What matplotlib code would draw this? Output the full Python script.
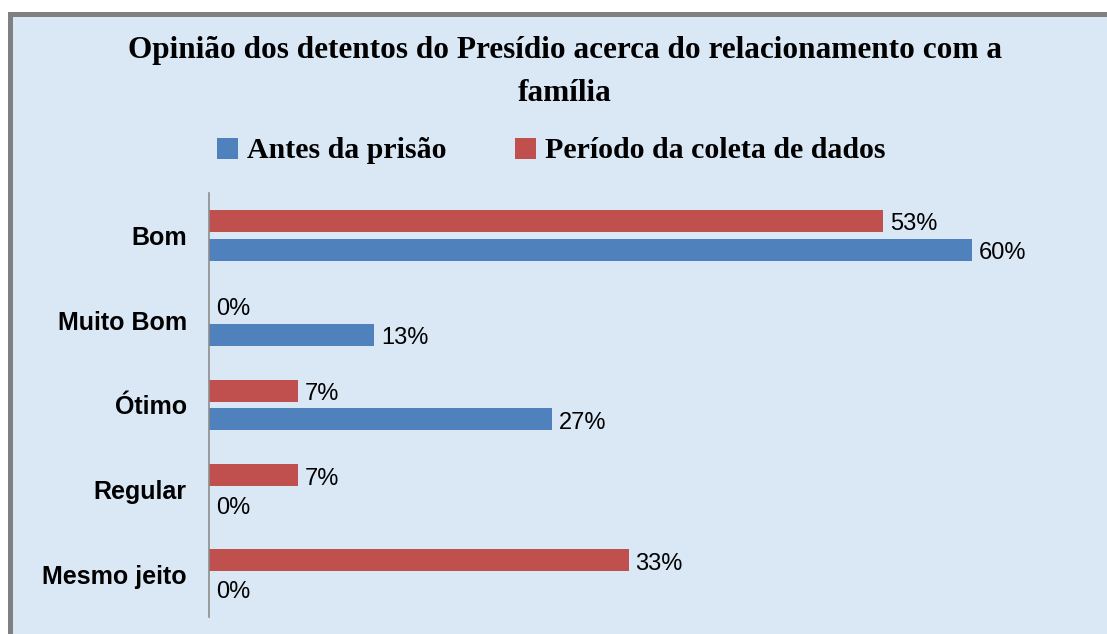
import matplotlib
matplotlib.use("Agg")
import matplotlib.pyplot as plt
from matplotlib.patches import Rectangle
import numpy as np

categories = ["Bom", "Muito Bom", "Ótimo", "Regular", "Mesmo jeito"]
antes = [60, 13, 27, 0, 0]
periodo = [53, 0, 7, 7, 33]
series_names = ["Antes da prisão", "Período da coleta de dados"]
title = "Opinião dos detentos do Presídio acerca do relacionamento com a\nfamília"

W, H = 1107, 634
fig = plt.figure(figsize=(W / 100, H / 100), dpi=100)
fig.patch.set_facecolor("white")

bg = "#dae7f5"
# chart area background + gray border (top/left visible)
fig.patches.append(Rectangle((8 / W, 0), 1.0, 1 - 12 / H, transform=fig.transFigure,
                             facecolor="#808080", edgecolor="none", zorder=-10))
fig.patches.append(Rectangle((13 / W, 0), 1.0, 1 - 17 / H, transform=fig.transFigure,
                             facecolor=bg, edgecolor="none", zorder=-9))

ax = fig.add_axes([209 / W, 1 - 617 / H, (1099 - 209) / W, (617 - 193) / H])
ax.set_facecolor("none")
ax.set_zorder(2)

y = np.arange(len(categories))
h = 0.26
off = 0.17
blue = "#4F81BD"
red = "#C0504D"
b1 = ax.barh(y + off, antes, height=h, color=blue, label=series_names[0])
b2 = ax.barh(y - off, periodo, height=h, color=red, label=series_names[1])

ax.set_xlim(0, 70)
ax.set_ylim(len(categories) - 0.5, -0.5)
ax.set_yticks(y)
ax.set_yticklabels(categories, fontfamily="Liberation Sans", fontweight="bold", fontsize=18)
ax.tick_params(axis="y", length=0, pad=16)
ax.set_xticks([])
for s in ["top", "right", "bottom"]:
    ax.spines[s].set_visible(False)
ax.spines["left"].set_color("#8c8c8c")
ax.spines["left"].set_linewidth(1.2)

for bars, vals in [(b1, antes), (b2, periodo)]:
    for rect, v in zip(bars, vals):
        ax.annotate(f"{v}%", (v, rect.get_y() + rect.get_height() / 2),
                    xytext=(5, -2.5), textcoords="offset points",
                    va="center", ha="left", fontsize=17, fontfamily="Liberation Sans",
                    color="black")

fig.text(565 / W, 1 - 72 / H, title, ha="center", va="center", fontsize=22.5,
         fontfamily="Liberation Serif", fontweight="bold", linespacing=1.6)

leg = fig.legend(handles=[b1, b2], labels=series_names, loc="center",
                 bbox_to_anchor=(551 / W, 1 - 151 / H), ncol=2, frameon=False,
                 prop={"family": "Liberation Serif", "weight": "bold", "size": 21.5},
                 handlelength=0.7, handleheight=0.7, handletextpad=0.3,
                 columnspacing=2.3)
leg.set_zorder(3)

fig.savefig("out.png", dpi=100)
